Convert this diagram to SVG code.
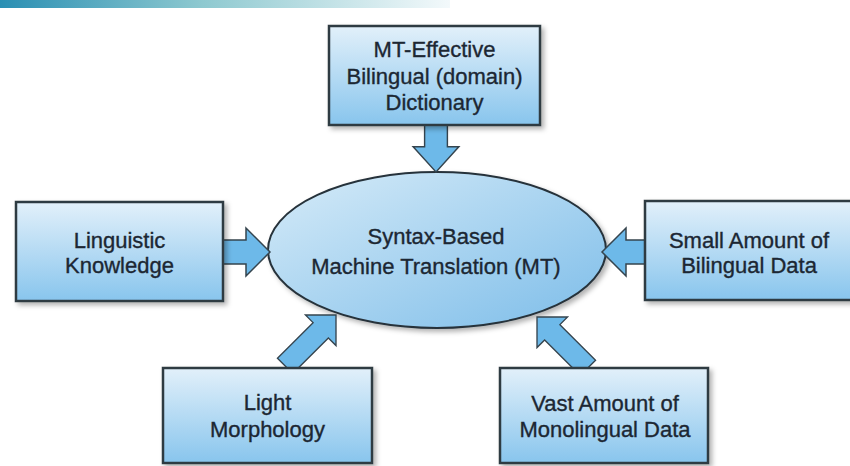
<svg xmlns="http://www.w3.org/2000/svg" width="850" height="466" viewBox="0 0 850 466">
<defs>
  <linearGradient id="banner" x1="0" y1="0" x2="1" y2="0">
    <stop offset="0" stop-color="#2a8fb3"/>
    <stop offset="0.45" stop-color="#8ec9d0"/>
    <stop offset="1" stop-color="#f3f9fb"/>
  </linearGradient>
  <linearGradient id="boxfill" x1="0" y1="0" x2="0" y2="1">
    <stop offset="0" stop-color="#e2f0fa"/>
    <stop offset="1" stop-color="#88c5ed"/>
  </linearGradient>
  <linearGradient id="ellfill" x1="0" y1="0" x2="1" y2="1">
    <stop offset="0" stop-color="#d6ebf8"/>
    <stop offset="1" stop-color="#7dbde9"/>
  </linearGradient>
  <filter id="shadow" x="-10%" y="-10%" width="125%" height="130%">
    <feDropShadow dx="3" dy="3" stdDeviation="2.5" flood-color="#000" flood-opacity="0.3"/>
  </filter>
  <path id="arr" d="M0,0 L-24,-24 L-24,-12 L-80,-12 L-80,12 L-24,12 L-24,24 Z"/>
</defs>
<style>
  .box { fill: url(#boxfill); stroke: #2e3a42; stroke-width: 2.5; filter: url(#shadow); }
  .ell { fill: url(#ellfill); stroke: #26323a; stroke-width: 2; filter: url(#shadow); }
  .arrow { fill: #6db9e9; stroke: #35444e; stroke-width: 1.5; stroke-linejoin: miter; }
  text { font-family: "Liberation Sans", Arial, sans-serif; font-size: 22px; fill: #1c2733; stroke: #1c2733; stroke-width: 0.35; text-anchor: middle; }
</style>
<rect x="0" y="0" width="450" height="8" fill="url(#banner)"/>

<g id="center">
  <ellipse class="ell" cx="437" cy="250" rx="169" ry="78"/>
  <text x="436" y="244">Syntax-Based</text>
  <text x="436" y="274">Machine Translation (MT)</text>
</g>

<g id="connectors">
  <use href="#arr" class="arrow" transform="translate(436,172) rotate(90) scale(1.05,0.95)"/>
  <use href="#arr" class="arrow" transform="translate(270,252)"/>
  <use href="#arr" class="arrow" transform="translate(602,252) rotate(180)"/>
  <use href="#arr" class="arrow" transform="translate(336,315) rotate(-45) scale(0.9)"/>
  <use href="#arr" class="arrow" transform="translate(537,317) rotate(-135) scale(0.9)"/>
</g>

<g id="dictionary">
  <rect class="box" x="329" y="26" width="211" height="99"/>
  <text x="434.5" y="57">MT-Effective</text>
  <text x="434.5" y="84">Bilingual (domain)</text>
  <text x="434.5" y="110">Dictionary</text>
</g>

<g id="linguistic">
  <rect class="box" x="16" y="202" width="207" height="99"/>
  <text x="119.5" y="248">Linguistic</text>
  <text x="119.5" y="273">Knowledge</text>
</g>

<g id="small-bilingual">
  <rect class="box" x="645" y="201" width="210" height="99"/>
  <text x="749" y="248">Small Amount of</text>
  <text x="749" y="273">Bilingual Data</text>
</g>

<g id="morphology">
  <rect class="box" x="163" y="368" width="209" height="95"/>
  <text x="267.5" y="410">Light</text>
  <text x="267.5" y="437">Morphology</text>
</g>

<g id="monolingual">
  <rect class="box" x="500" y="368" width="208" height="95"/>
  <text x="605" y="411">Vast Amount of</text>
  <text x="605" y="437">Monolingual Data</text>
</g>
</svg>
